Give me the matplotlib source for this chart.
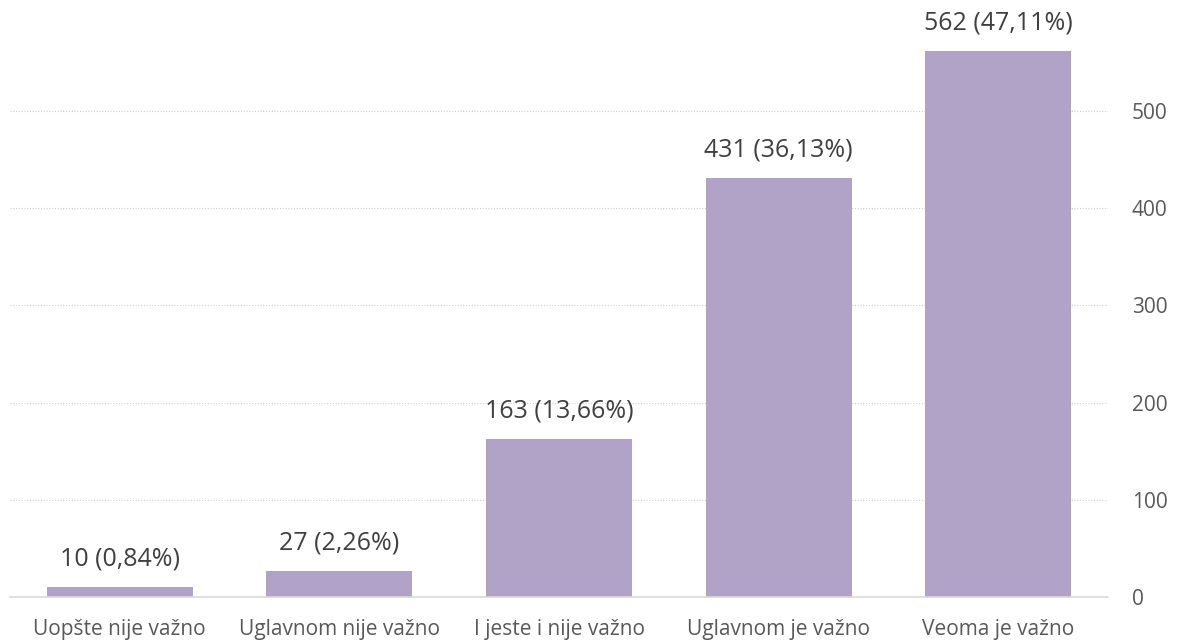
import matplotlib.pyplot as plt

categories = ['Uopšte nije važno', 'Uglavnom nije važno', 'I jeste i nije važno',
              'Uglavnom je važno', 'Veoma je važno']
counts = [10, 27, 163, 431, 562]
percents = ['0,84%', '2,26%', '13,66%', '36,13%', '47,11%']
yticks = [0, 100, 200, 300, 400, 500]

plt.rcParams['font.family'] = ['Open Sans', 'DejaVu Sans']

fig = plt.figure(figsize=(11.8, 6.43), dpi=100)
ax = fig.add_axes([10 / 1180, 46 / 643, 1098 / 1180, 597 / 643])

x = range(len(categories))
bars = ax.bar(x, counts, width=0.664, color='#b1a2c8', zorder=2)

for b, c, p in zip(bars, counts, percents):
    ax.annotate(f'{c} ({p})', (b.get_x() + b.get_width() / 2, b.get_height()),
                xytext=(0, 11), textcoords='offset points', ha='center', va='bottom',
                fontsize=18, color='#404040')

ax.set_xlim(-0.5, len(categories) - 0.5)
ax.set_ylim(0, 614)
ax.set_xticks(list(x))
ax.set_xticklabels(categories, fontsize=15, color='#595959')
ax.set_yticks(yticks)
ax.yaxis.tick_right()
ax.set_yticklabels([str(t) for t in yticks], fontsize=15, color='#595959', ha='left')
ax.tick_params(axis='y', length=0, pad=17)
ax.tick_params(axis='x', length=0, pad=16)

ax.grid(axis='y', color='#d0d0d0', linestyle=(0, (1, 1.5)), linewidth=0.8, zorder=0)
for s in ['top', 'left', 'right']:
    ax.spines[s].set_visible(False)
ax.spines['bottom'].set_color('#d9d9d9')
ax.spines['bottom'].set_linewidth(1.2)

fig.savefig('out.png', dpi=100)
